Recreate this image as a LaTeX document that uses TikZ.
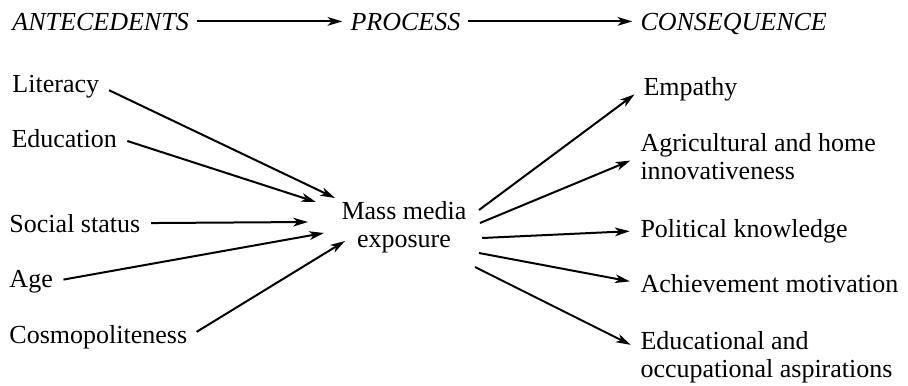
\documentclass[tikz,border=0pt]{standalone}
\usepackage{fontspec}
\setmainfont{Liberation Serif}
\usetikzlibrary{arrows.meta}

\tikzset{every picture/.style={line width=0.75pt}}
\tikzset{
  lbl/.style={anchor=base west, inner sep=0.75pt, font=\fontsize{19.5}{21}\selectfont},
  hdr/.style={anchor=base west, inner sep=0.75pt, text depth=0pt, font=\fontsize{19.5}{21}\selectfont\itshape},
  flow/.style={line width=1.5pt, -{Stealth[length=11pt,width=6.5pt,inset=3pt]}},
}

\begin{document}
\begin{tikzpicture}[x=0.75pt,y=0.75pt,yscale=-1,xscale=1]
\useasboundingbox (0,0) rectangle (908,386);

% Header
\draw (11,30) node [hdr] (ant) {ANTECEDENTS};
\draw (349,30) node [hdr] (proc) {PROCESS};
\draw (639,30) node [hdr] (cons) {CONSEQUENCE};
\draw [flow, shorten <=5pt, shorten >=5pt] (ant.east) -- (proc.west);
\draw [flow, shorten <=5pt, shorten >=5pt] (proc.east) -- (cons.west);

% Antecedents
\draw (11,92) node [lbl] (lit) {Literacy};
\draw (10,147) node [lbl] (edu) {Education};
\draw (8,232) node [lbl] (soc) {Social status};
\draw (8,287) node [lbl] (age) {Age};
\draw (8,343) node [lbl] (cos) {Cosmopoliteness};

% Process
\draw (404,227) node [lbl, anchor=center, align=center] (media) {Mass media\\exposure};

% Consequences
\draw (642,95) node [lbl] (emp) {Empathy};
\draw (639,157) node [lbl, anchor=west, align=left] (agr) {Agricultural and home\\innovativeness};
\draw (639,237) node [lbl] (pol) {Political knowledge};
\draw (639,292) node [lbl] (ach) {Achievement motivation};
\draw (639,357) node [lbl, anchor=west, align=left] (occ) {Educational and\\occupational aspirations};

% Arrow ends round the process
\coordinate (in-lit) at (335,198);
\coordinate (in-edu) at (316,202);
\coordinate (in-soc) at (308,222);
\coordinate (in-age) at (324,233);
\coordinate (in-cos) at (345,241);
\coordinate (out-emp) at (479,210);
\coordinate (out-agr) at (480,223);
\coordinate (out-pol) at (482,238);
\coordinate (out-ach) at (479,253);
\coordinate (out-occ) at (475,267);

% Incoming arrows
\draw [flow, shorten <=7pt] (lit.east) -- (in-lit);
\draw [flow, shorten <=7pt] (edu.east) -- (in-edu);
\draw [flow, shorten <=7pt] (soc.east) -- (in-soc);
\draw [flow, shorten <=7pt] (age.east) -- (in-age);
\draw [flow, shorten <=7pt] (cos.east) -- (in-cos);

% Outgoing arrows
\draw [flow, shorten >=7pt] (out-emp) -- (emp.west);
\draw [flow, shorten >=7pt] (out-agr) -- (agr.west);
\draw [flow, shorten >=7pt] (out-pol) -- (pol.west);
\draw [flow, shorten >=7pt] (out-ach) -- (ach.west);
\draw [flow, shorten >=7pt] (out-occ) -- ([yshift=-6pt]occ.west);

\end{tikzpicture}
\end{document}
